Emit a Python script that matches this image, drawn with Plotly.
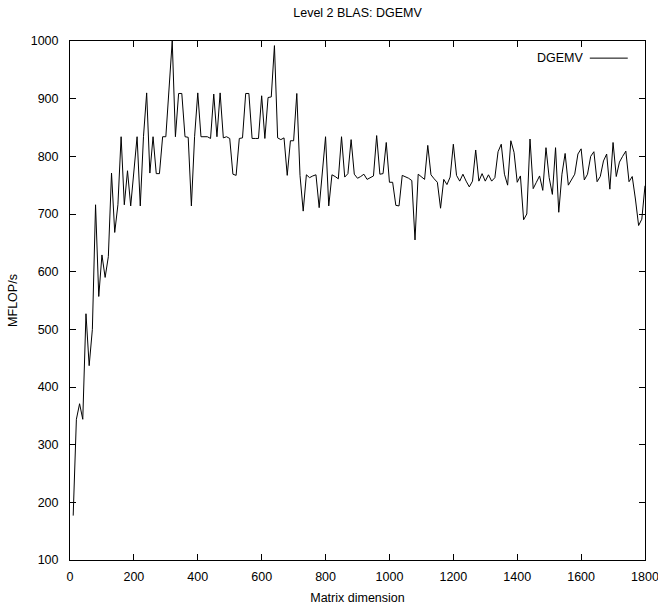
import plotly.graph_objects as go

title_text = "Level 2 BLAS: DGEMV"
series_name = "DGEMV"
x_title = "Matrix dimension"
y_title = "MFLOP/s"

dims = list(range(10, 1801, 10))
mflops = [
    177, 344, 371, 344, 527, 437, 500, 716, 557, 629,
    590, 626, 771, 668, 716, 834, 716, 775, 714, 771,
    834, 714, 834, 910, 771, 834, 770, 770, 834, 834,
    909, 1000, 834, 909, 909, 834, 833, 714, 834, 910,
    834, 834, 834, 831, 908, 834, 910, 832, 834, 831,
    769, 767, 831, 832, 909, 909, 831, 831, 831, 905,
    831, 902, 903, 992, 832, 829, 832, 767, 827, 827,
    909, 767, 705, 768, 763, 766, 768, 711, 769, 834,
    714, 768, 765, 761, 834, 764, 770, 829, 769, 762,
    765, 769, 760, 763, 766, 836, 769, 770, 824, 755,
    755, 715, 714, 767, 765, 762, 758, 655, 769, 764,
    760, 819, 768, 761, 755, 710, 760, 751, 764, 821,
    767, 757, 769, 757, 747, 757, 811, 757, 770, 757,
    768, 757, 763, 808, 821, 769, 750, 827, 807, 755,
    766, 690, 700, 830, 744, 755, 766, 741, 815, 763,
    734, 815, 703, 769, 805, 750, 760, 769, 804, 813,
    759, 769, 800, 808, 756, 765, 792, 804, 743, 824,
    765, 790, 800, 809, 756, 765, 726, 680, 691, 749,
]

x_ticks = [0, 200, 400, 600, 800, 1000, 1200, 1400, 1600, 1800]
y_ticks = [100, 200, 300, 400, 500, 600, 700, 800, 900, 1000]

FONT = "Liberation Sans, Arial, sans-serif"

fig = go.Figure()
fig.add_trace(go.Scatter(
    x=dims, y=mflops, mode="lines", name=series_name,
    line=dict(color="black", width=1), showlegend=False,
))

# legend (gnuplot style: text then line sample)
fig.add_annotation(
    x=0.897, y=0.967, xref="paper", yref="paper", text=series_name,
    showarrow=False, xanchor="right", yanchor="middle",
    font=dict(family=FONT, size=12.5, color="black"),
)
fig.add_shape(type="line", xref="paper", yref="paper",
              x0=0.904, x1=0.970, y0=0.967, y1=0.967,
              line=dict(color="black", width=1))

axis_common = dict(
    showline=True, linecolor="black", linewidth=1, mirror="ticks",
    ticks="inside", ticklen=6, tickcolor="black", tickwidth=1,
    showgrid=False, zeroline=False, ticklabeloverflow="allow",
    automargin=False,
    tickfont=dict(family=FONT, size=12.5, color="black"),
)

fig.update_layout(
    width=658, height=613,
    margin=dict(l=70, r=13, t=41, b=53),
    paper_bgcolor="white", plot_bgcolor="white",
    title=dict(text=title_text, x=0.5, xref="paper", xanchor="center",
               y=1 - 13 / 613, yanchor="middle", automargin=False,
               font=dict(family=FONT, size=12.5, color="black")),
    xaxis=dict(range=[0, 1800], tickvals=x_ticks,
               title=dict(text=x_title, standoff=10,
                          font=dict(family=FONT, size=12.5, color="black")),
               ticklabelstandoff=5, **axis_common),
    yaxis=dict(range=[100, 1000], tickvals=y_ticks,
               title=dict(text=y_title, standoff=10,
                          font=dict(family=FONT, size=12.5, color="black")),
               ticklabelstandoff=8, **axis_common),
)

fig.write_html("out.html")
